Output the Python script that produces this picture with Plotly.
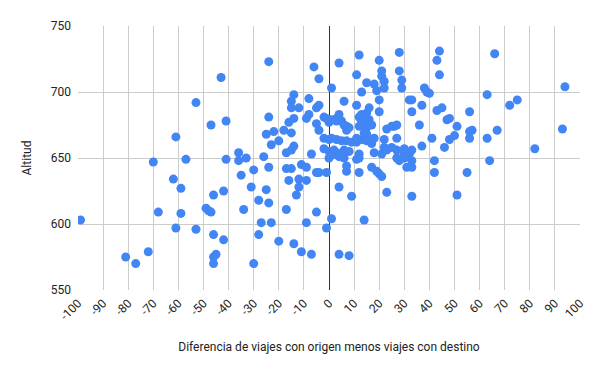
import plotly.graph_objects as go

# Differences (origin trips minus destination trips) and altitude
diferencia = [
    -99, -81, -77, -72, -70, -68, -62, -61, -61, -59, -59, -57, -53, -53, -49, -48, -47, -47,
    -46, -46, -45, -46, -46, -43, -42, -42, -41, -41, -36, -36, -35, -34, -33, -31, -30, -30,
    -28, -28, -27, -26, -25, -25, -24, -24, -24, -24, -23, -23, -22, -20, -20, -18, -17, -17,
    -17, -16, -16, -15, -15, -15, -15, -15, -14, -14, -14, -14, -13, -12, -12, -12, -11, -11,
    -9, -9, -9, -9, -8, -8, -7, -7, -6, -5, -5, -5, -5, -4, -4, -4, -4, -2, -2, -2, -1, -1,
    -1, 0, 0, 0, 1, 1, 1,
    4, 3, 3, 5, 6, 7, 8, 7,
    12, 13, 15, 15, 13, 14, 16, 17, 12, 15, 14, 15, 13, 15, 18, 17,
    1, 3, 5, 7, 9, 11, 11, 2, 3, 6, 8,
    0, 4, 6, 12, 11, 18, 21, 27, 30, 32,
    1, 5, 12, 23, 27, 28, 30, 33, 33, 31, 33,
    42, 42, 7, 7, 12, 17, 19, 20, 21,
    4, 9, 23, 33, 51, 14, 4, 8,
    4, 12, 11, 20, 28, 44, 43, 44,
    21, 21, 22, 22, 15, 18, 19, 13,
    28, 29, 29, 6, 20, 11, 16, 20, 32, 33, 33,
    38, 39, 40, 37, 43, 45, 47, 48, 51, 36,
    23, 25, 26, 27, 27, 30, 37, 41, 46, 48, 50, 22, 22, 25,
    66, 94, 63, 72, 75, 56, 56, 57, 56, 67, 63, 93, 82, 64, 55,
]
altitud = [
    603, 575, 570, 579, 647, 609, 634, 666, 597, 627, 608, 649, 692, 596, 612, 610, 609, 675,
    622, 592, 577, 575, 570, 711, 625, 588, 678, 649, 654, 648, 637, 611, 650, 628, 641, 570,
    618, 592, 601, 651, 668, 626, 723, 681, 643, 616, 660, 601, 670, 663, 587, 671, 654, 642,
    611, 677, 633, 693, 688, 669, 656, 642, 698, 680, 659, 585, 622, 688, 634, 628, 645, 579,
    680, 643, 633, 601, 695, 683, 653, 577, 719, 688, 676, 639, 609, 710, 690, 671, 639, 681, 665, 657, 680, 639,
    597, 677, 664, 655, 679, 703, 604,
    683, 680, 678, 678, 675, 674, 673, 671,
    681, 683, 684, 679, 678, 676, 679, 675, 674, 673, 669, 668, 664, 663, 665, 661,
    665, 664, 663, 663, 662, 665, 662, 656, 654, 656, 655,
    650, 651, 650, 653, 649, 654, 653, 650, 650, 653,
    652, 652, 650, 656, 656, 648, 653, 656, 648, 643, 643,
    648, 639, 644, 640, 639, 643, 640, 638, 636,
    628, 621, 624, 621, 622, 603, 577, 576,
    722, 728, 713, 724, 730, 731, 724, 713,
    716, 712, 708, 703, 707, 706, 701, 700,
    716, 709, 703, 693, 694, 690, 688, 685, 694, 694, 685,
    703, 700, 699, 690, 686, 688, 679, 680, 674, 675,
    672, 674, 674, 675, 665, 657, 659, 665, 658, 664, 667, 664, 658, 658,
    729, 704, 698, 690, 694, 685, 670, 671, 665, 671, 665, 672, 657, 648, 639,
]

x_ticks = list(range(-100, 101, 10))
y_ticks = [550, 600, 650, 700, 750]

fig = go.Figure(
    go.Scatter(
        x=diferencia,
        y=altitud,
        mode="markers",
        marker=dict(color="#4285F4", size=9, line=dict(width=0)),
        hoverinfo="x+y",
    )
)

fig.update_layout(
    width=600,
    height=371,
    margin=dict(l=78, r=20, t=26, b=81),
    paper_bgcolor="white",
    plot_bgcolor="white",
    font=dict(family="Roboto", size=12, color="#222222"),
    showlegend=False,
    xaxis=dict(
        range=[-100, 100],
        tickvals=x_ticks,
        ticktext=[str(v) for v in x_ticks],
        tickangle=-45,
        showgrid=True,
        gridcolor="#cccccc",
        gridwidth=1,
        zeroline=True,
        zerolinecolor="#333333",
        zerolinewidth=1,
        showline=False,
        ticks="",
        ticklabelstandoff=3,
        tickfont=dict(size=12, color="#222222"),
        title=dict(
            text="Diferencia de viajes con origen menos viajes con destino",
            font=dict(size=12, color="#222222"),
            standoff=20,
        ),
    ),
    yaxis=dict(
        range=[550, 750],
        tickvals=y_ticks,
        showgrid=True,
        gridcolor="#cccccc",
        gridwidth=1,
        zeroline=False,
        showline=False,
        ticks="",
        ticklabelstandoff=6,
        tickfont=dict(size=12, color="#222222"),
        title=dict(text="Altitud", font=dict(size=12, color="#222222"), standoff=16),
    ),
)

fig.write_html("out.html")
